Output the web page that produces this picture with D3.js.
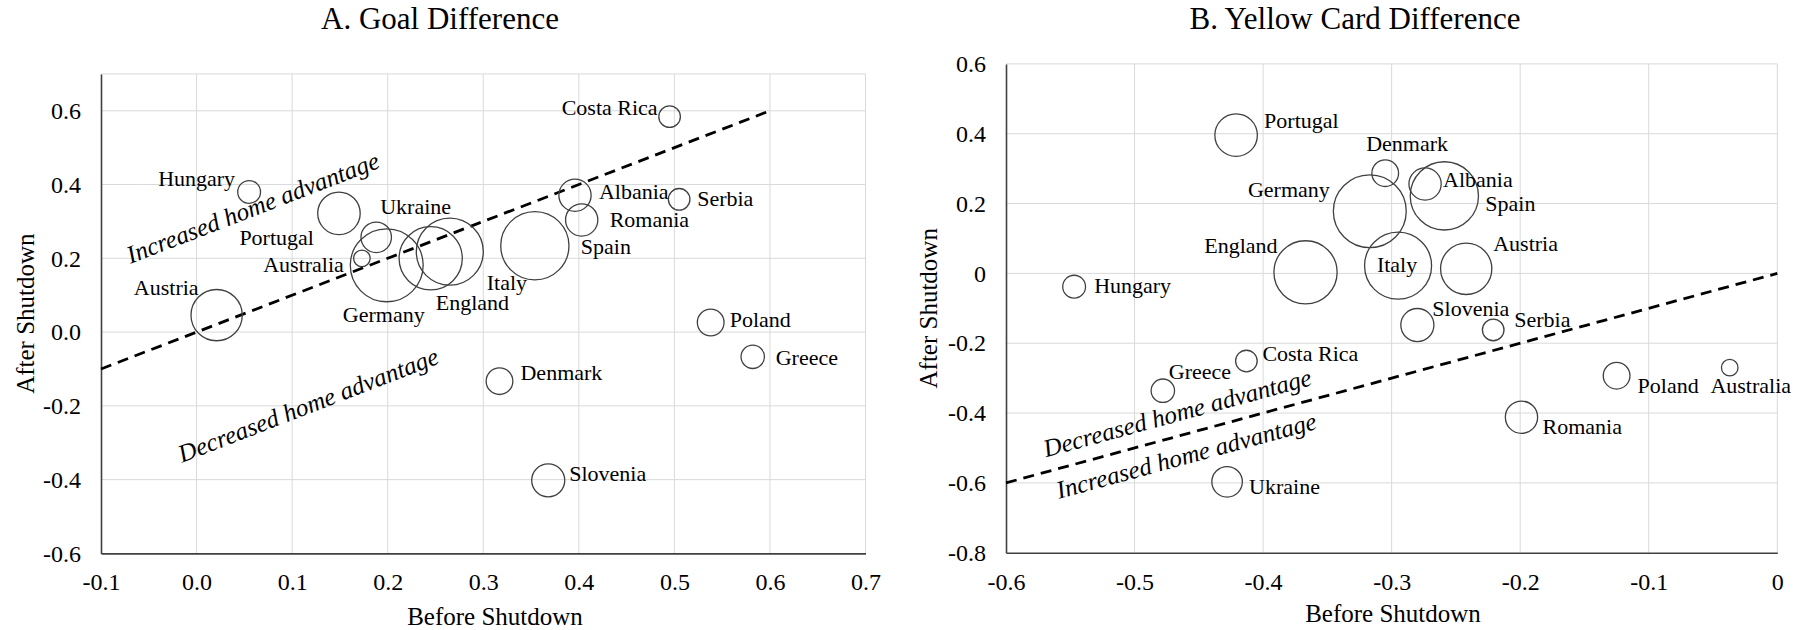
<!DOCTYPE html>
<html>
<head>
<meta charset="utf-8">
<script src="https://cdn.jsdelivr.net/npm/d3@7"></script>
<style>
  html, body { margin: 0; padding: 0; background: #fff; }
  svg text { font-family: "Liberation Serif", "Times New Roman", serif; fill: #000; }
</style>
</head>
<body>
<svg id="chart" width="1803" height="630"></svg>
<script>
// --- data ---
const countries = ["Albania", "Australia", "Austria", "Costa Rica", "Denmark", "England", "Germany", "Greece", "Hungary",
  "Italy", "Poland", "Portugal", "Romania", "Serbia", "Slovenia", "Spain", "Ukraine"];
// bubble weight (area)
const weights = [19, 5, 48, 8.5, 13, 73, 97, 10, 9.5, 82, 13, 33, 19, 8.5, 20, 85, 17];

const goalBefore = [0.396, 0.173, 0.021, 0.495, 0.317, 0.245, 0.199, 0.582, 0.055, 0.265, 0.538, 0.149, 0.403, 0.505, 0.368, 0.354, 0.188];
const goalAfter  = [0.371, 0.200, 0.046, 0.584, -0.133, 0.200, 0.181, -0.067, 0.380, 0.218, 0.026, 0.322, 0.304, 0.360, -0.402, 0.234, 0.257];

const cardBefore = [-0.274, -0.037, -0.242, -0.413, -0.305, -0.367, -0.317, -0.478, -0.547, -0.295, -0.125, -0.421, -0.199, -0.221, -0.280, -0.259, -0.428];
const cardAfter  = [0.256, -0.270, 0.013, -0.251, 0.287, 0.003, 0.178, -0.336, -0.038, 0.022, -0.293, 0.396, -0.412, -0.162, -0.148, 0.222, -0.597];

const goalXTicks  = [-0.1, 0, 0.1, 0.2, 0.3, 0.4, 0.5, 0.6, 0.7];
const goalXLabels = ["-0.1", "0.0", "0.1", "0.2", "0.3", "0.4", "0.5", "0.6", "0.7"];
const goalYTicks  = [-0.6, -0.4, -0.2, 0, 0.2, 0.4, 0.6];
const goalYLabels = ["-0.6", "-0.4", "-0.2", "0.0", "0.2", "0.4", "0.6"];

const cardXTicks  = [-0.6, -0.5, -0.4, -0.3, -0.2, -0.1, 0];
const cardXLabels = ["-0.6", "-0.5", "-0.4", "-0.3", "-0.2", "-0.1", "0"];
const cardYTicks  = [-0.8, -0.6, -0.4, -0.2, 0, 0.2, 0.4, 0.6];
const cardYLabels = ["-0.8", "-0.6", "-0.4", "-0.2", "0", "0.2", "0.4", "0.6"];

const titles = ["A. Goal Difference", "B. Yellow Card Difference"];
const xTitle = "Before Shutdown";
const yTitle = "After Shutdown";
const goalDiagonal = [-0.1, 0.6];
const cardDiagonal = [-0.6, 0];
const goalNotes = [
  {text: "Increased home advantage", x: 0.062, y: 0.316},
  {text: "Decreased home advantage", x: 0.120, y: -0.219}
];
const cardNotes = [
  {text: "Decreased home advantage", x: -0.465, y: -0.423},
  {text: "Increased home advantage", x: -0.458, y: -0.545}
];

// label placement relative to bubble centre: [anchor, dx, dy]
const goalLabelPos = {
  "Hungary": ["end", -14, -6], "Portugal": ["end", -25, 32], "Ukraine": ["start", 4, -23],
  "Australia": ["end", -18, 14], "Germany": ["middle", -3, 57], "England": ["start", 5, 52],
  "Italy": ["start", 37, 38], "Austria": ["end", -18, -20], "Costa Rica": ["end", -12, -2],
  "Albania": ["start", 24, 4], "Romania": ["start", 28, 7], "Spain": ["start", 46, 8],
  "Serbia": ["start", 18, 7], "Poland": ["start", 19, 4], "Greece": ["start", 23, 8],
  "Denmark": ["start", 21, -1], "Slovenia": ["start", 21, 1]
};
const cardLabelPos = {
  "Portugal": ["start", 28, -7], "Denmark": ["start", -19, -22], "Germany": ["end", -40, -14],
  "England": ["end", -28, -19], "Hungary": ["start", 20, 6], "Italy": ["middle", -1, 6],
  "Albania": ["start", 18, 3], "Spain": ["start", 41, 15], "Austria": ["start", 27, -18],
  "Slovenia": ["start", 15, -9], "Serbia": ["start", 21, -3], "Costa Rica": ["start", 16, 0],
  "Greece": ["start", 6, -12], "Ukraine": ["start", 22, 12], "Poland": ["start", 21, 17],
  "Australia": ["middle", 21, 25], "Romania": ["start", 21, 17]
};

const serif = "'Liberation Serif', 'Times New Roman', serif";
const svg = d3.select("#chart").attr("font-family", serif);
svg.append("rect").attr("width", 1803).attr("height", 630).attr("fill", "#fff");

const rScale = d3.scaleSqrt().domain([0, 100]).range([0, 37]);

function drawPanel(cfg) {
  const g = svg.append("g");
  const x = d3.scaleLinear().domain(cfg.xDomain).range([cfg.left, cfg.right]);
  const y = d3.scaleLinear().domain(cfg.yDomain).range([cfg.bottom, cfg.top]);

  // grid
  g.append("g").selectAll("line").data(cfg.xTicks.slice(1)).join("line")
    .attr("x1", d => x(d)).attr("x2", d => x(d))
    .attr("y1", cfg.top).attr("y2", cfg.bottom)
    .attr("stroke", "#d9d9d9").attr("stroke-width", 1);
  g.append("g").selectAll("line").data(cfg.yTicks.slice(1)).join("line")
    .attr("x1", cfg.left).attr("x2", cfg.right)
    .attr("y1", d => y(d)).attr("y2", d => y(d))
    .attr("stroke", "#d9d9d9").attr("stroke-width", 1);

  // axes
  const xAxis = g.append("g")
    .attr("transform", `translate(0,${cfg.bottom})`)
    .call(d3.axisBottom(x).tickValues(cfg.xTicks).tickSize(0).tickPadding(cfg.xPad)
      .tickFormat((d, i) => cfg.xLabels[i]));
  const yAxis = g.append("g")
    .attr("transform", `translate(${cfg.left},0)`)
    .call(d3.axisLeft(y).tickValues(cfg.yTicks).tickSize(0).tickPadding(20)
      .tickFormat((d, i) => cfg.yLabels[i]));
  [xAxis, yAxis].forEach(a => {
    a.attr("font-family", serif).attr("font-size", 24);
    a.select(".domain").attr("stroke", "#404040").attr("stroke-width", 1.6);
    a.selectAll("text").attr("fill", "#000");
  });

  // diagonal
  const line = d3.line().x(d => x(d)).y(d => y(d));
  g.append("path").datum(cfg.diagonal)
    .attr("d", line)
    .attr("fill", "none").attr("stroke", "#000")
    .attr("stroke-width", 2.8).attr("stroke-dasharray", "11,7");

  const p0 = [x(cfg.diagonal[0]), y(cfg.diagonal[0])];
  const p1 = [x(cfg.diagonal[1]), y(cfg.diagonal[1])];
  const angle = Math.atan2(p1[1] - p0[1], p1[0] - p0[0]) * 180 / Math.PI;

  // bubbles
  const data = countries.map((c, i) => ({name: c, bx: cfg.xs[i], by: cfg.ys[i], w: weights[i]}));
  g.append("g").selectAll("circle").data(data).join("circle")
    .attr("cx", d => x(d.bx)).attr("cy", d => y(d.by))
    .attr("r", d => rScale(d.w))
    .attr("fill", "none").attr("stroke", "#404040").attr("stroke-width", 1.3);

  g.append("g").selectAll("text").data(data).join("text")
    .attr("x", d => x(d.bx) + cfg.labelPos[d.name][1])
    .attr("y", d => y(d.by) + cfg.labelPos[d.name][2])
    .attr("text-anchor", d => cfg.labelPos[d.name][0])
    .attr("font-size", 22)
    .text(d => d.name);

  // annotations
  g.append("g").selectAll("text").data(cfg.notes).join("text")
    .attr("x", d => x(d.x)).attr("y", d => y(d.y))
    .attr("text-anchor", "middle")
    .attr("font-size", 25).attr("font-style", "italic")
    .attr("fill", "#1a1a1a")
    .attr("transform", d => `rotate(${angle},${x(d.x)},${y(d.y)})`)
    .text(d => d.text);

  // titles
  g.append("text").attr("x", cfg.titleX).attr("y", 29)
    .attr("text-anchor", "middle").attr("font-size", 31).text(cfg.title);
  g.append("text").attr("x", cfg.xTitleX).attr("y", cfg.xTitleY)
    .attr("text-anchor", "middle").attr("font-size", 25).text(xTitle);
  g.append("text")
    .attr("transform", `translate(${cfg.yTitleX},${(cfg.top + cfg.bottom) / 2}) rotate(-90)`)
    .attr("text-anchor", "middle").attr("font-size", 25).text(yTitle);
}

drawPanel({
  left: 101, right: 865.5, top: 73.9, bottom: 553.4,
  xDomain: [-0.1, 0.7], yDomain: [-0.6, 0.7],
  xTicks: goalXTicks, xLabels: goalXLabels, yTicks: goalYTicks.concat([0.7]), yLabels: goalYLabels.concat([""]),
  xPad: 20, xs: goalBefore, ys: goalAfter, diagonal: goalDiagonal, notes: goalNotes,
  labelPos: goalLabelPos, title: titles[0], titleX: 440, xTitleX: 495, xTitleY: 625, yTitleX: 34
});

drawPanel({
  left: 1006, right: 1777.3, top: 63.9, bottom: 552.7,
  xDomain: [-0.6, 0], yDomain: [-0.8, 0.6],
  xTicks: cardXTicks, xLabels: cardXLabels, yTicks: cardYTicks, yLabels: cardYLabels,
  xPad: 20, xs: cardBefore, ys: cardAfter, diagonal: cardDiagonal, notes: cardNotes,
  labelPos: cardLabelPos, title: titles[1], titleX: 1355, xTitleX: 1393, xTitleY: 622, yTitleX: 937
});
</script>
</body>
</html>
